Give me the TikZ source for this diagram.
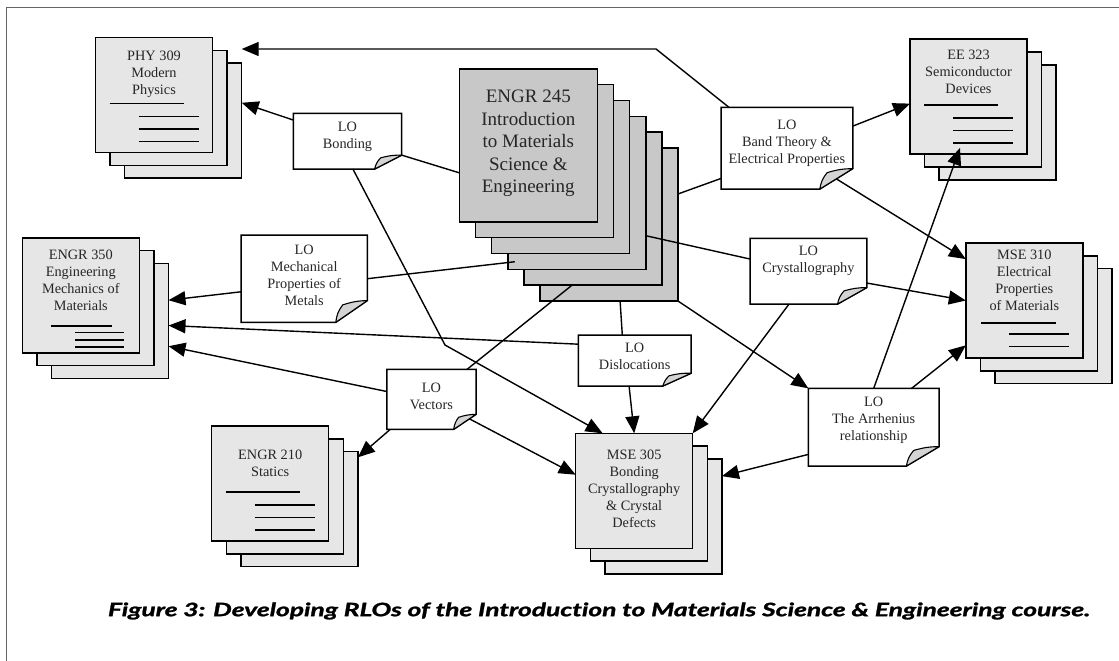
\documentclass[tikz,border=0pt]{standalone}
\usepackage{fontspec}
\setmainfont{Liberation Serif}
\newfontfamily\capfont{Lato}[Ligatures={NoCommon}, BoldItalicFeatures={FakeBold=1.2}]
\usepackage{graphicx}
\usepackage{tikz}
\usetikzlibrary{arrows.meta,positioning,calc}
\definecolor{pagegray}{RGB}{230,230,230}
\definecolor{maingray}{RGB}{200,200,200}
\definecolor{curlgray}{RGB}{212,212,212}
\definecolor{framegray}{RGB}{100,100,100}

% learning-object note with a turned-down corner
\newcommand{\lonote}[1]{%
  \coordinate (#1-a) at ($(#1.south east)!0.25!(#1.south west)$);
  \coordinate (#1-b) at ($(#1.south east)!0.25!(#1.north east)$);
  \coordinate (#1-x) at ($(#1.south east)!0.195!(#1.south west)$);
  \coordinate (#1-c) at ($(#1-x)!0.2!(#1-x |- #1.north)$);
  \filldraw[lobody] (#1.north west) -- (#1.north east) -- (#1-b) -- (#1-a) -- (#1.south west) -- cycle;
  \filldraw[locurl] (#1-a) to[bend left=15] (#1-c) to[bend left=8] (#1-b) -- cycle;
}
% text lines on a course page
\newcommand{\doclines}[1]{%
  \draw[docline] ($(#1.north west)+(14,-66)$) -- ++(74,0)
    ($(#1.north west)+(43,-79)$) -- ++(60,0)
    ($(#1.north west)+(43,-91.5)$) -- ++(60,0)
    ($(#1.north west)+(43,-104)$) -- ++(60,0);
}

\begin{document}
\begin{tikzpicture}[x=1pt, y=1pt, >={Triangle[length=17pt,width=14pt]},
    page/.style={draw, line width=1.5pt, fill=pagegray, minimum width=117pt, minimum height=115pt, inner sep=0pt, outer sep=0pt},
    mainpage/.style={page, fill=maingray, minimum width=138pt, minimum height=153pt},
    lo/.style={inner sep=0pt, outer sep=0pt},
    lobody/.style={line width=1.5pt, fill=white},
    locurl/.style={line width=1.1pt, fill=curlgray, line join=round},
    doctext/.style={align=center, inner sep=0pt, text=black!85, font=\fontsize{14.3}{17}\selectfont},
    lotext/.style={doctext},
    docline/.style={line width=1.5pt},
    link/.style={line width=1.4pt}]
    \useasboundingbox (0,0) rectangle (1119,-661);

    % Frame
    \draw[framegray, line width=0.8pt] (1119,-7) -- (6,-7) -- (6,-661);

    % Course stacks
    \coordinate (phy309c) at (154,-95);
    \coordinate (ee323c) at (968.5,-96.7);
    \coordinate (engr350c) at (80.8,-295.3);
    \coordinate (engr210c) at (270.2,-483.5);
    \coordinate (mse305c) at (634.2,-490.8);
    \coordinate (mse310c) at (1024.3,-300.5);

    \node[page] (phy309z) at ($(phy309c)+(29.2,-25.6)$) {};
    \node[page] (phy309y) at ($(phy309c)+(14.6,-12.8)$) {};
    \node[page] (phy309) at (phy309c) {};
    \node[doctext, below=13pt of phy309.north] (phy309t) {PHY 309\\Modern\\Physics};
    \doclines{phy309}

    \node[page] (ee323z) at ($(ee323c)+(29.2,-25.6)$) {};
    \node[page] (ee323y) at ($(ee323c)+(14.6,-12.8)$) {};
    \node[page] (ee323) at (ee323c) {};
    \node[doctext, below=11pt of ee323.north] (ee323t) {EE 323\\Semiconductor\\Devices};
    \doclines{ee323}

    \node[page] (engr350z) at ($(engr350c)+(29.2,-25.6)$) {};
    \node[page] (engr350y) at ($(engr350c)+(14.6,-12.8)$) {};
    \node[page] (engr350) at (engr350c) {};
    \node[doctext, below=12pt of engr350.north] (engr350t) {ENGR 350\\Engineering\\Mechanics of\\Materials};
    \draw[docline] ($(engr350.north west)+(29,-88)$) -- ++(61,0)
        ($(engr350.north west)+(53,-94.7)$) -- ++(49,0)
        ($(engr350.north west)+(53,-102)$) -- ++(49,0)
        ($(engr350.north west)+(53,-109.3)$) -- ++(49,0);

    \node[page] (engr210z) at ($(engr210c)+(29.2,-25.6)$) {};
    \node[page] (engr210y) at ($(engr210c)+(14.6,-12.8)$) {};
    \node[page] (engr210) at (engr210c) {};
    \node[doctext, below=24pt of engr210.north] (engr210t) {ENGR 210\\Statics};
    \doclines{engr210}

    \node[page] (mse305z) at ($(mse305c)+(29.2,-25.6)$) {};
    \node[page] (mse305y) at ($(mse305c)+(14.6,-12.8)$) {};
    \node[page] (mse305) at (mse305c) {};
    \node[doctext, below=16pt of mse305.north] (mse305t) {MSE 305\\Bonding\\Crystallography\\\& Crystal\\Defects};

    \node[page] (mse310z) at ($(mse310c)+(29.2,-25.6)$) {};
    \node[page] (mse310y) at ($(mse310c)+(14.6,-12.8)$) {};
    \node[page] (mse310) at (mse310c) {};
    \node[doctext, below=7pt of mse310.north] (mse310t) {MSE 310\\Electrical\\Properties\\of Materials};
    \draw[docline] ($(mse310.north west)+(15,-80)$) -- ++(75,0)
        ($(mse310.north west)+(43,-91)$) -- ++(60,0)
        ($(mse310.north west)+(43,-103.4)$) -- ++(60,0);

    % ENGR 245, the source course
    \coordinate (engr245c) at (528.3,-145.3);
    \foreach \k in {5,4,...,1}
        \node[mainpage] (engr245p\k) at ($(engr245c)+(16.15*\k,-15.85*\k)$) {};
    \node[mainpage] (engr245) at (engr245c) {};
    \node[doctext, font=\fontsize{19}{22.5}\selectfont, below=21pt of engr245.north] (engr245t) {ENGR 245\\Introduction\\to Materials\\Science \&\\Engineering};

    % Learning objects
    \node[lo, minimum width=108.4pt, minimum height=55.7pt] (lobond) at (347.5,-141.2) {};
    \lonote{lobond}
    \node[lotext] (lobondt) at ($(lobond)+(0,4.2)$) {LO\\Bonding};

    \node[lo, minimum width=131.7pt, minimum height=81.7pt] (loband) at (786.9,-148.2) {};
    \lonote{loband}
    \node[lotext] (lobandt) at ($(loband)+(0,5.2)$) {LO\\Band Theory \&\\Electrical Properties};

    \node[lo, minimum width=126.3pt, minimum height=87.3pt] (lomech) at (304.2,-278.7) {};
    \lonote{lomech}
    \node[lotext] (lomecht) at ($(lomech)+(0,3.2)$) {LO\\Mechanical\\Properties of\\Metals};

    \node[lo, minimum width=116.7pt, minimum height=65.7pt] (locryst) at (808.4,-271.2) {};
    \lonote{locryst}
    \node[lotext] (locrystt) at ($(locryst)+(0,9.9)$) {LO\\Crystallography};

    \node[lo, minimum width=112.7pt, minimum height=51pt] (lodisl) at (634.7,-360.5) {};
    \lonote{lodisl}
    \node[lotext] (lodislt) at ($(lodisl)+(0,4.5)$) {LO\\Dislocations};

    \node[lo, minimum width=130.7pt, minimum height=77.7pt] (loarrh) at (873.7,-427.2) {};
    \lonote{loarrh}
    \node[lotext] (loarrht) at ($(loarrh)+(0,7.2)$) {LO\\The Arrhenius\\relationship};

    \node[lo, minimum width=89.3pt, minimum height=60pt] (lovect) at (431.4,-399.3) {};
    \lonote{lovect}
    \node[lotext] (lovectt) at ($(lovect)+(0,3)$) {LO\\Vectors};

    % Connectors
    \coordinate (topbend) at (656,-49);
    \coordinate (bondbend) at (445,-345);
    \draw[link,->] ($(loband.north west)!0.06!(loband.north east)$) -- (topbend) -- (topbend -| phy309z.east);
    \draw[link,->] ($(lobond.north west)!0.12!(lobond.south west)$) -- ($(phy309z.north east)!0.345!(phy309z.south east)$);
    \draw[link] (lobond-b) -- ($(engr245.north west)!0.68!(engr245.south west)$);
    \draw[link,->] ($(lobond.south west)!0.55!(lobond.south east)$) -- (bondbend) -- ($(mse305.north west)!0.23!(mse305.north east)$);
    \draw[link] ($(engr245p5.north east)!0.3!(engr245p5.south east)$) -- ($(loband.north west)!0.87!(loband.south west)$);
    \draw[link,->] ($(loband.north east)!0.23!(loband.south east)$) -- ($(ee323.north west)!0.56!(ee323.south west)$);
    \draw[link,->] ($(loband-a)!0.5!(loband-b)$) -- ($(mse310.north west)!0.14!(mse310.south west)$);
    \draw[link] ($(engr245p3.north east)!0.78!(engr245p3.south east)$) -- ($(locryst.north west)!0.315!(locryst.south west)$);
    \draw[link,->] ($(locryst.north east)!0.68!(locryst.south east)$) -- (mse310.west);
    \draw[link,->] ($(locryst.south west)!0.334!(locryst.south east)$) -- (mse305.north east);
    \draw[link,->] (engr245p5.south east) -- (loarrh.north west);
    \draw[link] ($(engr245p5.south west)!0.58!(engr245p5.south east)$) -- ($(lodisl.north west)!0.39!(lodisl.north east)$);
    \draw[link,->] ($(lodisl.south west)!0.45!(lodisl.south east)$) -- (mse305.north);
    \draw[link,->] ($(lodisl.north west)!0.18!(lodisl.south west)$) -- ($(engr350z.north east)!0.54!(engr350z.south east)$);
    \draw[link,->] ($(lomech.north west)!0.65!(lomech.south west)$) -- ($(engr350z.north east)!0.32!(engr350z.south east)$);
    \draw[link] ($(engr245p3.south west)+(7,7.6)$) -- (lomech.east);
    \draw[link,->] ($(lovect.north west)!0.37!(lovect.south west)$) -- ($(engr350z.north east)!0.72!(engr350z.south east)$);
    \draw[link] ($(engr245p5.south west)+(33,16.7)$) -- ($(lovect.north west)!0.9!(lovect.north east)$);
    \draw[link,->] ($(lovect.south west)!0.04!(lovect.south east)$) -- ($(engr210z.north east)!0.05!(engr210z.south east)$);
    \draw[link,->] ($(lovect-a)!0.7!(lovect-b)$) -- ($(mse305.north west)!0.36!(mse305.south west)$);
    \draw[link,->] ($(loarrh.north west)!0.85!(loarrh.south west)$) -- ($(mse305z.north east)!0.15!(mse305z.south east)$);
    \draw[link,->] (loarrh.north) -- ($(ee323.south west)+(50,6.3)$);
    \draw[link,->] ($(loarrh.north west)!0.79!(loarrh.north east)$) -- ($(mse310.north west)!0.89!(mse310.south west)$);

    % Caption
    \node[inner sep=0pt, font=\capfont\bfseries\itshape\fontsize{18.5}{20}\selectfont] (caption) at (599,-611)
        {\resizebox{982pt}{\height}{Figure 3: Developing RLOs of the Introduction to Materials Science \& Engineering course.}};
\end{tikzpicture}
\end{document}
